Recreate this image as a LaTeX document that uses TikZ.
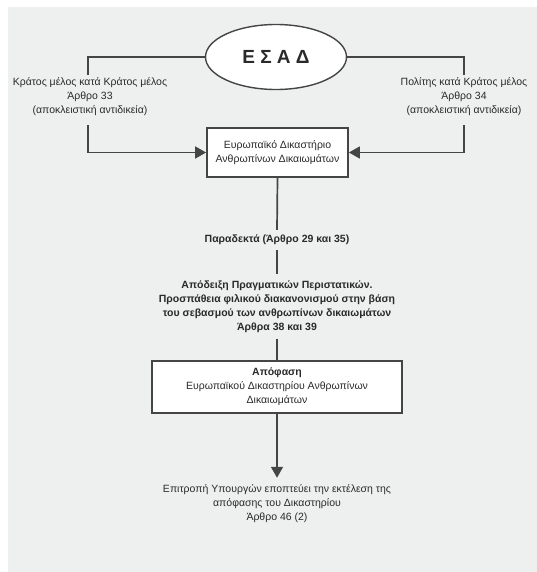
\documentclass[tikz,border=0pt]{standalone}
\usepackage{fontspec}
\setmainfont{Liberation Sans}
\usetikzlibrary{shapes.geometric,arrows.meta}
\definecolor{bgc}{HTML}{EEEFEF}
\definecolor{linec}{HTML}{454545}
\definecolor{txtc}{HTML}{2A2A2A}
\tikzset{
  x=1pt,y=1pt,
  lbl/.style={align=center,text=txtc,font=\fontsize{10.5}{14}\selectfont,inner sep=0pt},
  blbl/.style={lbl,font=\bfseries\fontsize{10.5}{14}\selectfont},
  boxn/.style={draw=linec,line width=1.8pt,fill=white,align=center,text=txtc,font=\fontsize{10.5}{14}\selectfont,inner sep=0pt},
  conn/.style={draw=linec,line width=1.7pt},
  arr/.style={conn,-{Triangle[length=11pt,width=12pt]}}
}
\begin{document}
\begin{tikzpicture}
\useasboundingbox (0,0) rectangle (537,-572);
\fill[white] (0,0) rectangle (537,-572);
\fill[bgc] (8,-7) rectangle (537,-572);

\node[ellipse,draw=linec,line width=1.4pt,fill=white,minimum width=141pt,minimum height=65pt,inner sep=0pt,text=txtc,font=\bfseries\fontsize{19}{22}\selectfont] (esad) at (276,-57) {Ε Σ Α Δ};

\node[lbl] (lt) at (90,-97) {Κράτος μέλος κατά Κράτος μέλος\\Άρθρο 33\\(αποκλειστική αντιδικεία)};
\node[lbl] (rt) at (464,-97) {Πολίτης κατά Κράτος μέλος\\Άρθρο 34\\(αποκλειστική αντιδικεία)};

\node[boxn,minimum width=141pt,minimum height=49pt] (box1) at (277.5,-152.5) {Ευρωπαϊκό Δικαστήριο\\Ανθρωπίνων Δικαιωμάτων};

\node[blbl] (t1) at (277,-240) {Παραδεκτά (Άρθρο 29 και 35)};
\node[blbl] (t2) at (277,-306.5) {Απόδειξη Πραγματικών Περιστατικών.\\Προσπάθεια φιλικού διακανονισμού στην βάση\\του σεβασμού των ανθρωπίνων δικαιωμάτων\\Άρθρα 38 και 39};

\node[boxn,minimum width=250pt,minimum height=52pt] (box2) at (277,-387) {\textbf{Απόφαση}\\Ευρωπαϊκού Δικαστηρίου Ανθρωπίνων\\Δικαιωμάτων};

\node[lbl] (t3) at (277,-504) {Επιτροπή Υπουργών εποπτεύει την εκτέλεση της\\απόφασης του Δικαστηρίου\\Άρθρο 46 (2)};

\draw[conn] (esad.west) -| ([xshift=-2pt,yshift=3pt]lt.north);
\draw[conn] (esad.east) -| ([yshift=3pt]rt.north);
\draw[arr] ([xshift=-2pt,yshift=-9pt]lt.south) |- (box1.west);
\draw[arr] ([yshift=-9pt]rt.south) |- (box1.east);

\draw[conn] (box1.south) -- ([yshift=5pt]t1.north);
\draw[conn] ([yshift=-5pt]t1.south) -- ([yshift=6pt]t2.north);
\draw[conn] ([yshift=-6pt]t2.south) -- (box2.north);
\draw[arr] (box2.south) -- ([yshift=7pt]t3.north);
\end{tikzpicture}
\end{document}
